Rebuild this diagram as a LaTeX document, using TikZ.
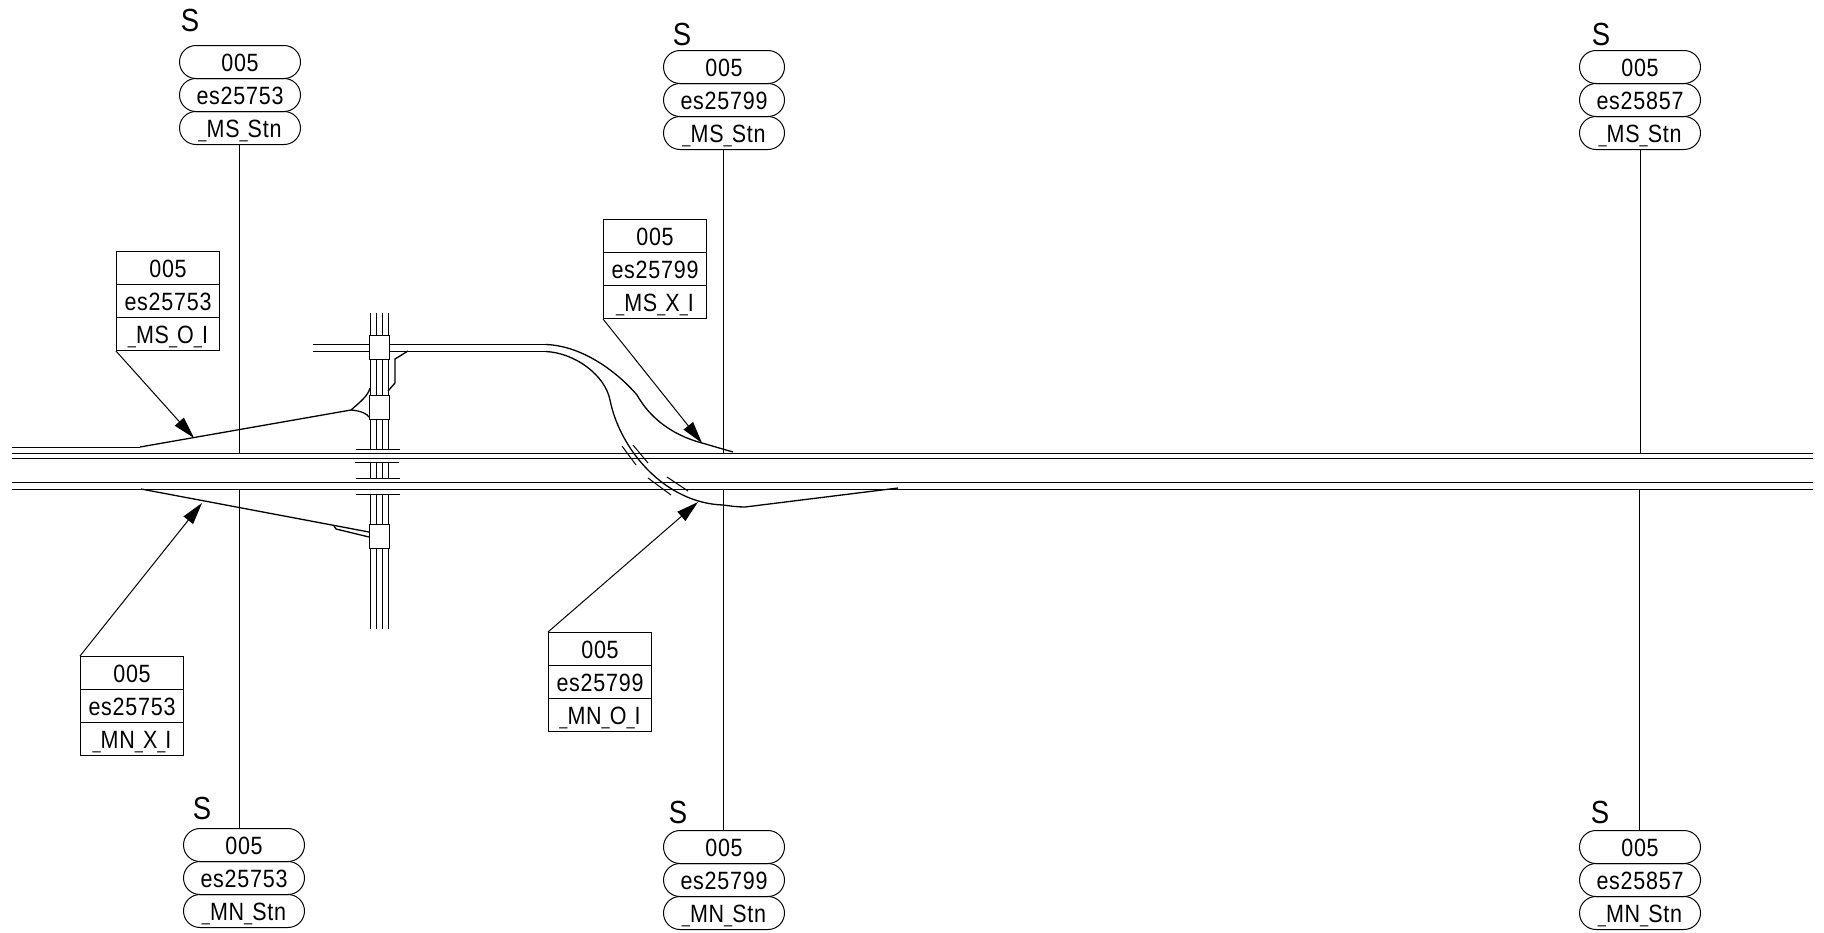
\documentclass[tikz,border=0pt]{standalone}
\usepackage{fontspec}
\usepackage{tikz}
\usetikzlibrary{shapes.misc,arrows.meta}
\setmainfont[FakeStretch=0.86,LetterSpace=3]{Liberation Sans}
\newcommand{\lowbar}{\raisebox{-0.5pt}{\fontsize{8.5}{9}\selectfont\_}}

\tikzset{
    pill/.style = {shape=rounded rectangle,draw=black,line width=0.5pt,inner sep=0pt,minimum width=60.5pt,minimum height=16.5pt,text height=9.3pt,text depth=0pt,font=\fontsize{12.5}{14}\selectfont},
    tag/.style = {shape=rectangle,draw=black,line width=0.5pt,inner sep=0pt,minimum width=51.5pt,minimum height=16.5pt,text height=9.3pt,text depth=0pt,font=\fontsize{12.5}{14}\selectfont},
    letter/.style = {font=\fontsize{16}{18}\selectfont},
    crossing/.style = {shape=rectangle,draw=black,line width=0.5pt,fill=white,inner sep=0pt,minimum width=10pt,minimum height=12pt},
    track/.style = {line width=0.5pt},
    ramp/.style = {line width=0.65pt},
    thin line/.style = {line width=0.5pt}
}

\begin{document}
\begin{tikzpicture}[
            x = 0.5pt, y = -0.5pt, % one unit is one reference pixel
            > = {Triangle[length=11pt,width=6pt]}, % arrow head style
            semithick % line style
        ]
\useasboundingbox (0,0) rectangle (1824,932);

% main lines
\draw[track] (12,453) -- (1813,453);
\draw[track] (12,458.5) -- (1813,458.5);
\draw[track] (12,482.5) -- (1813,482.5);
\draw[track] (12,489) -- (1813,489);

% crossing road
\foreach \rx in {370,376,382,388} {
    \draw[track] (\rx,313) -- (\rx,449.5);
    \draw[track] (\rx,462.5) -- (\rx,478.5);
    \draw[track] (\rx,494.5) -- (\rx,629);
}
\draw[track] (356,449.5) -- (400,449.5);
\draw[track] (355,462.5) -- (399,462.5);
\draw[track] (356,478.5) -- (400,478.5);
\draw[track] (356,494.5) -- (400,494.5);
\draw[ramp] (313,344.5) -- (546,344.5);
\draw[ramp] (313,351.5) -- (546,351.5);

% ramps
\draw[track] (12,447) -- (140,447);
\draw[ramp] (140,447) -- (351,410);
\draw[ramp] (351,410) .. controls (360,402) and (368,396) .. (370,388);
\draw[ramp] (351,410) .. controls (362,411) and (367,414) .. (369,417);
\draw[ramp] (408,351) -- (395,359) -- (395,383) -- (388,391);
\draw[ramp] (141,489) -- (369,532);
\draw[ramp] (334,526) -- (336,529) -- (369,537);
\draw[ramp] (546,344.5) .. controls (585,346) and (620,375) .. (637,395)
    .. controls (650,418) and (672,435) .. (702,443) -- (733,452);
\draw[ramp] (546,351.5) .. controls (575,353) and (605,375) .. (610,400)
    .. controls (620,450) and (665,503) .. (723,505) .. controls (730,506) and (738,507) .. (745,507) -- (898,488);
\draw[thin line] (622,446) -- (636,465);
\draw[thin line] (633,445) -- (648,463);
\draw[thin line] (648,478) -- (671,495);
\draw[thin line] (667,477) -- (688,491);

% crossing boxes
\node[crossing] (X1) at (379.5,347.5) {};
\node[crossing] (X2) at (379.5,407.5) {};
\node[crossing] (X3) at (379.5,536.5) {};

% station stacks on top
\node[letter] (S1) at (190,20) {S};
\node[pill] (P1a) at (240,62) {005};
\node[pill] (P1b) at (240,95) {es25753};
\node[pill] (P1c) at (240,128) {\lowbar MS\lowbar Stn};

\node[letter] (S2) at (682,34) {S};
\node[pill] (P2a) at (724,67) {005};
\node[pill] (P2b) at (724,100) {es25799};
\node[pill] (P2c) at (724,133) {\lowbar MS\lowbar Stn};

\node[letter] (S3) at (1601,34) {S};
\node[pill] (P3a) at (1640,67) {005};
\node[pill] (P3b) at (1640,100) {es25857};
\node[pill] (P3c) at (1640,133) {\lowbar MS\lowbar Stn};

% station stacks below
\node[letter] (S4) at (202,808) {S};
\node[pill] (P4a) at (244,845) {005};
\node[pill] (P4b) at (244,878) {es25753};
\node[pill] (P4c) at (244,911) {\lowbar MN\lowbar Stn};

\node[letter] (S5) at (678,812) {S};
\node[pill] (P5a) at (724,847) {005};
\node[pill] (P5b) at (724,880) {es25799};
\node[pill] (P5c) at (724,913) {\lowbar MN\lowbar Stn};

\node[letter] (S6) at (1600,812) {S};
\node[pill] (P6a) at (1640,847) {005};
\node[pill] (P6b) at (1640,880) {es25857};
\node[pill] (P6c) at (1640,913) {\lowbar MN\lowbar Stn};

% stems down to the main lines
\coordinate (E1) at (239.5,453);
\coordinate (E2) at (723.5,453);
\coordinate (E3) at (1640.5,453);
\coordinate (E4) at (239.5,489);
\coordinate (E5) at (723.5,489);
\coordinate (E6) at (1639.5,489);
\path [-] (P1c.south -| E1) edge[thin line] (E1);
\path [-] (P2c.south -| E2) edge[thin line] (E2);
\path [-] (P3c.south -| E3) edge[thin line] (E3);
\path [-] (P4a.north -| E4) edge[thin line] (E4);
\path [-] (P5a.north -| E5) edge[thin line] (E5);
\path [-] (P6a.north -| E6) edge[thin line] (E6);

% tag boxes
\node[tag] (T1a) at (168,268) {005};
\node[tag] (T1b) at (168,301) {es25753};
\node[tag] (T1c) at (168,334) {\lowbar MS\lowbar O\lowbar I};

\node[tag] (T2a) at (655,236) {005};
\node[tag] (T2b) at (655,269) {es25799};
\node[tag] (T2c) at (655,302) {\lowbar MS\lowbar X\lowbar I};

\node[tag] (T3a) at (132,673) {005};
\node[tag] (T3b) at (132,706) {es25753};
\node[tag] (T3c) at (132,739) {\lowbar MN\lowbar X\lowbar I};

\node[tag] (T4a) at (600,649) {005};
\node[tag] (T4b) at (600,682) {es25799};
\node[tag] (T4c) at (600,715) {\lowbar MN\lowbar O\lowbar I};

% leaders
\coordinate (L1) at (194,438);
\coordinate (L2) at (702,443);
\coordinate (L3) at (202,503);
\coordinate (L4) at (698,502);
\path [->] (T1c.south west) edge[thin line] (L1);
\path [->] (T2c.south west) edge[thin line] (L2);
\path [->] (T3a.north west) edge[thin line] (L3);
\path [->] (T4a.north west) edge[thin line] (L4);
\end{tikzpicture}
\end{document}
